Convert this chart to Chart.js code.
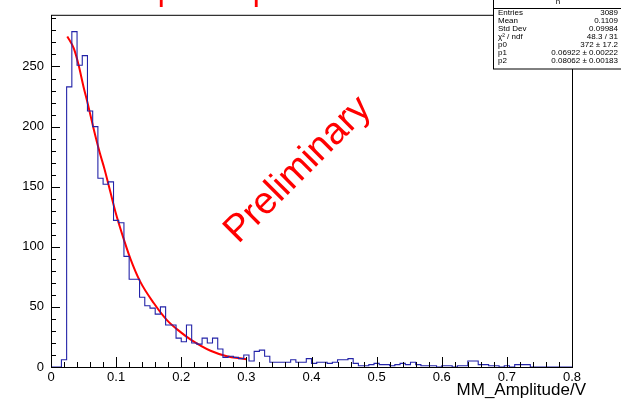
<!DOCTYPE html>
<html>
<head>
<meta charset="utf-8">
<script src="https://cdn.jsdelivr.net/npm/chart.js@4.4.0/dist/chart.umd.min.js"></script>
<style>
  html, body { margin: 0; padding: 0; background: #fff; }
  canvas { display: block; }
</style>
</head>
<body>
<canvas id="ch-h" width="621" height="402"></canvas>
<script>
// ============================================================
// Histograma h — MM_Amplitude/V con ajuste
// ============================================================

// ── Datos ────────────────────────────────────────────────────
const X_MIN = 0, X_MAX = 0.8, N_BINS = 100, Y_MAX = 293;

// cuentas por bin (100 bins entre 0 y 0.8)
const binCounts = [
    0,   0,   6, 233, 279, 251, 259, 213, 200, 157,
  152, 154, 122, 120,  92,  73,  73,  58,  51,  49,
   44,  50,  35,  35,  24,  21,  35,  20,  19,  24,
   20,  24,  15,   8,   9,   8,   7,  10,   5,  13,
   14,   9,   4,   4,   4,   4,   6,   4,   4,   7,
    3,   4,   4,   3,   4,   6,   6,   7,   3,   1,
    1,   2,   3,   2,   2,   1,   2,   3,   2,   4,
    2,   1,   1,   1,   0,   1,   1,   0,   1,   1,
    5,   5,   2,   2,   1,   1,   0,   1,   0,   2,
    2,   2,   0,   0,   0,   0,   0,   0,   0,   0,
];

// curva de ajuste
const fitX = [0.025, 0.035, 0.042, 0.050, 0.056, 0.066, 0.075, 0.082, 0.091, 0.099,
              0.109, 0.122, 0.137, 0.158, 0.178, 0.199, 0.214, 0.245, 0.270, 0.293, 0.300];
const fitY = [275, 265, 252, 233, 220, 197, 178, 165, 146, 129,
              111,  90,  71,  53,  39,  29,  23, 13.5,   9,   7, 6.5];

const xTicks = [0, 0.1, 0.2, 0.3, 0.4, 0.5, 0.6, 0.7, 0.8];
const yTicks = [0, 50, 100, 150, 200, 250];

const statsTitle  = 'h';
const statsLabels = ['Entries', 'Mean', 'Std Dev', 'χ² / ndf', 'p0', 'p1', 'p2'];
const statsValues = ['3089', '0.1109', '0.09984', '48.3 / 31', '372 ± 17.2',
                     '0.06922 ± 0.00222', '0.08062 ± 0.00183'];

const FONT = '"Liberation Sans", Arial, sans-serif';

// ── Puntos del histograma (borde izquierdo de cada bin) ──────
const binW = (X_MAX - X_MIN) / N_BINS;
const histPts = binCounts.map((c, k) => ({ x: X_MIN + k * binW, y: c }));
histPts.push({ x: X_MAX, y: binCounts[N_BINS - 1] });

const fitPts = fitX.map((x, i) => ({ x, y: fitY[i] }));

// ── Marco, ticks internos, textos y caja de estadística ──────
const rootFrame = {
    id: 'rootFrame',
    afterDraw(chart) {
        const { ctx, chartArea: a, scales: { x, y } } = chart;
        ctx.save();
        ctx.strokeStyle = '#000';
        ctx.lineWidth = 1;
        ctx.strokeRect(a.left + 0.5, a.top + 0.5, a.right - a.left, a.bottom - a.top);

        ctx.beginPath();
        for (let v = 0; v < Y_MAX; v += 10) {
            const py = Math.round(y.getPixelForValue(v)) + 0.5;
            const len = v % 50 === 0 ? 9 : 5;
            ctx.moveTo(a.left, py); ctx.lineTo(a.left + len, py);
        }
        for (let i = 0; i <= 40; i++) {
            const px = Math.round(x.getPixelForValue(i * 0.02)) + 0.5;
            const len = i % 5 === 0 ? 10 : 5;
            ctx.moveTo(px, a.bottom); ctx.lineTo(px, a.bottom - len);
        }
        ctx.stroke();

        // título del eje x
        ctx.fillStyle = '#000';
        ctx.font = '17px ' + FONT;
        ctx.textAlign = 'right';
        ctx.textBaseline = 'alphabetic';
        ctx.fillText('MM_Amplitude/V', 586, 395);

        // marca de agua
        ctx.save();
        ctx.translate(298, 170);
        ctx.rotate(-Math.PI / 4);
        ctx.fillStyle = '#ff0000';
        ctx.font = '38px ' + FONT;
        ctx.textAlign = 'center';
        ctx.textBaseline = 'middle';
        ctx.fillText('Preliminary', 0, 0);
        ctx.restore();

        // restos del título rojo cortado arriba
        ctx.fillStyle = '#ff0000';
        ctx.font = '32px ' + FONT;
        ctx.textAlign = 'left';
        ctx.textBaseline = 'alphabetic';
        ctx.fillText('q', 147, 0);
        ctx.fillText('q', 242, 0);

        // caja de estadística
        const bx = 493.5, bw = 140, bh = 69;
        ctx.fillStyle = '#fff';
        ctx.fillRect(bx, -1, bw, bh + 1);
        ctx.strokeStyle = '#000';
        ctx.strokeRect(bx, -1, bw, bh + 1);
        ctx.beginPath();
        ctx.moveTo(bx, 8.5); ctx.lineTo(bx + bw, 8.5);
        ctx.stroke();
        ctx.fillStyle = '#000';
        ctx.font = '8px ' + FONT;
        ctx.textBaseline = 'middle';
        ctx.textAlign = 'center';
        ctx.fillText(statsTitle, 558, 2);
        statsLabels.forEach((lab, i) => {
            const ty = 12.5 + i * 8.1;
            ctx.textAlign = 'left';
            ctx.fillText(lab, 498, ty);
            ctx.textAlign = 'right';
            ctx.fillText(statsValues[i], 618, ty);
        });
        ctx.restore();
    },
};

// ── Gráfico ──────────────────────────────────────────────────
new Chart(document.getElementById('ch-h').getContext('2d'), {
    type: 'line',
    data: {
        datasets: [
            {
                label: 'h',
                data: histPts,
                stepped: 'before',
                borderColor: '#2323a8',
                borderWidth: 1.1,
                pointRadius: 0,
                fill: false,
            },
            {
                label: 'fit',
                data: fitPts,
                borderColor: '#ff0000',
                borderWidth: 2,
                pointRadius: 0,
                cubicInterpolationMode: 'monotone',
                fill: false,
            },
        ],
    },
    options: {
        responsive: false, animation: false,
        layout: { padding: { left: 0, top: 14, right: 49, bottom: 0 } },
        plugins: { legend: { display: false }, tooltip: { enabled: false } },
        scales: {
            x: {
                type: 'linear', min: X_MIN, max: X_MAX,
                afterBuildTicks: s => { s.ticks = xTicks.map(v => ({ value: v })); },
                afterFit: s => { s.height = 35; },
                grid: { display: false, drawTicks: false, tickLength: 0 }, border: { display: false },
                ticks: { color: '#000', padding: 3, maxRotation: 0, autoSkip: false,
                         font: { family: FONT, size: 13 }, callback: v => String(+v.toFixed(1)) },
            },
            y: {
                type: 'linear', min: 0, max: Y_MAX,
                afterBuildTicks: s => { s.ticks = yTicks.map(v => ({ value: v })); },
                afterFit: s => { s.width = 51; },
                grid: { display: false, drawTicks: false, tickLength: 0 }, border: { display: false },
                ticks: { color: '#000', padding: 7, font: { family: FONT, size: 13 } },
            },
        },
    },
    plugins: [rootFrame],
});
</script>
</body>
</html>
